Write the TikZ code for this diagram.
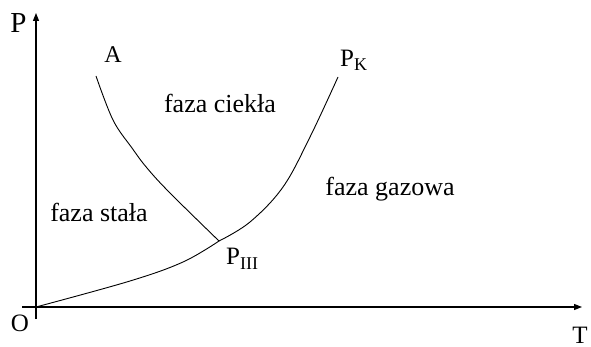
\documentclass[tikz,border=0pt]{standalone}
\usepackage{fontspec}
\setmainfont{Liberation Serif}
\usetikzlibrary{arrows.meta}
\begin{document}
\begin{tikzpicture}[x=1pt,y=-1pt,
  axis/.style={line width=1.2pt,-{Triangle[length=8pt,width=6pt]}},
  curve/.style={line width=0.9pt},
  phase/.style={font=\fontsize{26}{28}\selectfont,anchor=base,inner sep=0pt},
  lbl/.style={font=\fontsize{25}{28}\selectfont,anchor=base,inner sep=0pt}]
\useasboundingbox (0,0) rectangle (591,347);
% axis coordinates
\coordinate (orig) at (36,307);
\coordinate (ybot) at (36,319);
\coordinate (ytop) at (36,13);
\coordinate (xleft) at (22,307);
\coordinate (xright) at (582,307);
\coordinate (tp) at (219,241);
\coordinate (aend) at (96,76);
\coordinate (kend) at (338,77);
% axes
\draw[axis] (ybot) -- (ytop);
\draw[axis] (xleft) -- (xright);
% curves
\draw[curve] plot[smooth,tension=0.6] coordinates {(orig) (130,281) (183,262) (tp)};
\draw[curve] plot[smooth,tension=0.6] coordinates {(aend) (113,120) (132,148) (147,168) (170,193) (tp)};
\draw[curve] plot[smooth,tension=0.6] coordinates {(tp) (250,222) (283,187) (310,137) (kend)};
% labels
\node[lbl,font=\fontsize{29}{32}\selectfont] (Plbl) at (18.5,33) {P};
\node[lbl] (Olbl) at (20,331) {O};
\node[lbl] (Tlbl) at (580,343) {T};
\node[lbl,font=\fontsize{24}{28}\selectfont] (Albl) at (113,63) {A};
\node[lbl,anchor=base west] (PKlbl) at (340,67) {P\raisebox{-4pt}{\fontsize{18}{20}\selectfont K}};
\node[lbl,anchor=base west] (PIIIlbl) at (226,265) {P\raisebox{-5pt}{\fontsize{18}{20}\selectfont III}};
\node[phase] (ciekla) at (220,113) {faza ciekła};
\node[phase] (gazowa) at (390,196) {faza gazowa};
\node[phase] (stala) at (99,222) {faza stała};
\end{tikzpicture}
\end{document}
